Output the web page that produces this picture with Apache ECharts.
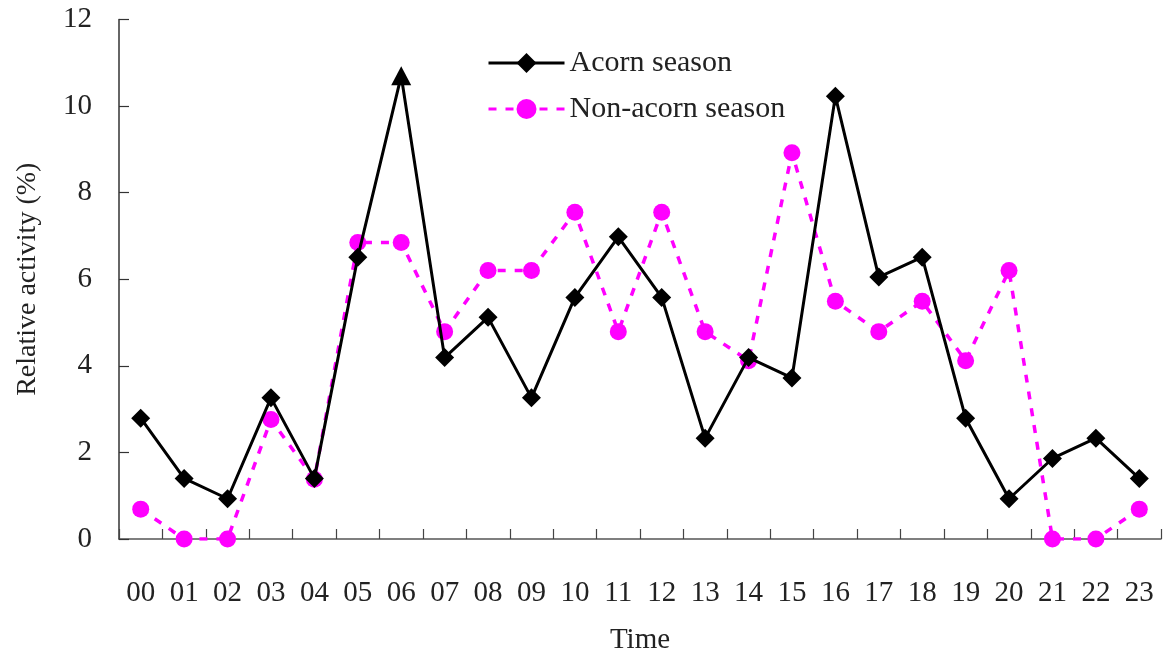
<!DOCTYPE html>
<html>
<head>
<meta charset="utf-8">
<script src="https://cdn.jsdelivr.net/npm/echarts@6/dist/echarts.min.js"></script>
<style>
html,body{margin:0;padding:0;background:#fff;}
#chart{width:1165px;height:659px;}
</style>
</head>
<body>
<div id="chart"></div>
<script>
const categories = ['00','01','02','03','04','05','06','07','08','09','10','11','12','13','14','15','16','17','18','19','20','21','22','23'];
const acornSeason = [2.79,1.40,0.93,3.26,1.40,6.51,10.70,4.19,5.12,3.26,5.58,6.98,5.58,2.33,4.19,3.72,10.23,6.05,6.51,2.79,0.93,1.86,2.33,1.40];
const nonAcornSeason = [0.69,0,0,2.76,1.38,6.85,6.85,4.79,6.20,6.20,7.55,4.79,7.55,4.79,4.12,8.92,5.49,4.79,5.49,4.12,6.20,0,0,0.69];
const yTicks = {min:0, max:12, interval:2};

const FONT = '"Liberation Serif","Times New Roman",serif';
const chart = echarts.init(document.getElementById('chart'), null, {renderer:'canvas'});

const acornData = acornSeason.map((v,i) => i === 6 ? {value:v, symbol:'triangle', symbolSize:[20,19]} : v);

chart.setOption({
  animation:false,
  backgroundColor:'#fff',
  textStyle:{fontFamily:FONT},
  grid:{left:119, right:4, top:19.5, bottom:120, containLabel:false, outerBoundsMode:'none'},
  legend:{
    orient:'vertical',
    left:482, top:43,
    itemWidth:76, itemHeight:25, itemGap:16,
    lineStyle:{width:3},
    textStyle:{fontFamily:FONT, fontSize:30, color:'#222', lineHeight:30, padding:[0,0,0,0]},
    data:['Acorn season','Non-acorn season']
  },
  xAxis:{
    type:'category',
    data:categories,
    boundaryGap:true,
    name:'Time',
    nameLocation:'middle',
    nameGap:87,
    nameTextStyle:{fontFamily:FONT, fontSize:29, color:'#222'},
    axisLine:{lineStyle:{color:'#555', width:1.5}},
    axisTick:{show:true, inside:true, length:10, alignWithLabel:false, lineStyle:{color:'#444', width:1.2}},
    axisLabel:{fontFamily:FONT, fontSize:29, color:'#222', margin:40, interval:0},
    splitLine:{show:false}
  },
  yAxis:{
    type:'value',
    min:yTicks.min, max:yTicks.max, interval:yTicks.interval,
    name:'Relative activity (%)',
    nameLocation:'middle',
    nameGap:77,
    nameTextStyle:{fontFamily:FONT, fontSize:28, color:'#222'},
    axisLine:{show:true, lineStyle:{color:'#333', width:1.5}},
    axisTick:{show:true, inside:true, length:10, lineStyle:{color:'#333', width:1.2}},
    axisLabel:{fontFamily:FONT, fontSize:29, color:'#222', margin:27},
    splitLine:{show:false}
  },
  series:[
    {
      name:'Acorn season',
      type:'line',
      data:acornData,
      symbol:'diamond',
      symbolSize:19,
      z:3,
      lineStyle:{color:'#000', width:3},
      itemStyle:{color:'#000'}
    },
    {
      name:'Non-acorn season',
      type:'line',
      data:nonAcornSeason,
      symbol:'circle',
      symbolSize:17,
      z:2,
      lineStyle:{color:'#ff00ff', width:3.5, type:[8,9]},
      itemStyle:{color:'#ff00ff'}
    }
  ]
});
</script>
</body>
</html>
